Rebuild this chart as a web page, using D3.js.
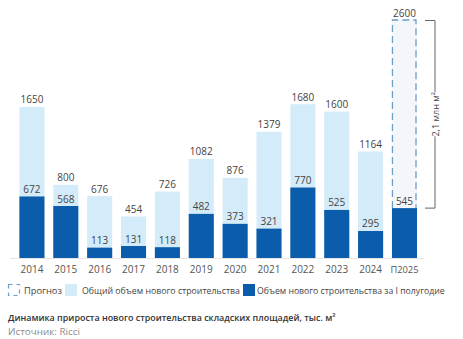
<!DOCTYPE html>
<html><head><meta charset="utf-8">
<script src="https://cdn.jsdelivr.net/npm/d3@7"></script>
<style>body{margin:0;background:#fff;} text{font-family:"Open Sans",sans-serif;}</style>
</head><body><svg id="c" width="463" height="339"></svg>
<script>
const years = ["2014","2015","2016","2017","2018","2019","2020","2021","2022","2023","2024","П2025"];
const totalValues = [1650,800,676,454,726,1082,876,1379,1680,1600,1164,2600];
const halfYearValues = [672,568,113,131,118,482,373,321,770,525,295,545];
const forecastFlags = [false,false,false,false,false,false,false,false,false,false,false,true];
const legendLabels = ["Прогноз","Общий объем нового строительства","Объем нового строительства за I полугодие"];
const titleText = "Динамика прироста нового строительства складских площадей, тыс. м²";
const sourceText = "Источник: Ricci";
const bracketLabel = "2,1 млн м²";

const dark = "#0b5cab", light = "#d4ecf9", fcFill = "#f3f7fb", dash = "#6e9ec4";
const svg = d3.select("#c");
const x = d3.scaleBand().domain(years).range([15, 421.4]).paddingInner(0.26).paddingOuter(0.13);
const y = d3.scaleLinear().domain([0, 2600]).range([258, 20]);
const data = years.map((yr,i)=>({yr, t: totalValues[i], h: halfYearValues[i], f: forecastFlags[i]}));

function fit(sel, w){
  sel.each(function(){
    const s = d3.select(this);
    const L = this.getComputedTextLength();
    if (L > w) s.attr("font-size", (+s.attr("font-size")) * w / L);
  });
  return sel;
}

svg.append("line").attr("x1",10).attr("x2",424).attr("y1",y(0)+0.5).attr("y2",y(0)+0.5)
  .attr("stroke","#e6e6e6").attr("stroke-width",1);

const g = svg.append("g");
g.selectAll(".tot").data(data).join("rect")
  .attr("x", d=>x(d.yr)).attr("width", x.bandwidth())
  .attr("y", d=>y(d.t)).attr("height", d=>y(0)-y(d.t))
  .attr("fill", d=>d.f ? fcFill : light);
data.filter(d=>d.f).forEach(d=>{
  const x0 = x(d.yr)+0.5, x1 = x(d.yr)+x.bandwidth()-1, yt = y(d.t), yb = y(d.h);
  const p = d3.path(); p.moveTo(x0,yb); p.lineTo(x0,yt); p.lineTo(x1,yt); p.lineTo(x1,yb);
  g.append("path").attr("d", p.toString()).attr("fill","none").attr("stroke",dash)
   .attr("stroke-width",1.3).attr("stroke-dasharray","7,4");
});
g.selectAll(".half").data(data).join("rect")
  .attr("x", d=>x(d.yr)).attr("width", x.bandwidth())
  .attr("y", d=>y(d.h)).attr("height", d=>y(0)-y(d.h))
  .attr("fill", dark);

g.selectAll(".tl").data(data).join("text")
  .attr("x", d=>x(d.yr)+x.bandwidth()/2).attr("y", d=>y(d.t)-3.5)
  .attr("text-anchor","middle").attr("font-size",10).attr("fill","#444").text(d=>d.t);
g.selectAll(".hl").data(data).join("text")
  .attr("x", d=>x(d.yr)+x.bandwidth()/2).attr("y", d=>y(d.h)-3.5)
  .attr("text-anchor","middle").attr("font-size",10).attr("fill","#444").text(d=>d.h);

const ax = svg.append("g").attr("transform",`translate(0,${y(0)})`)
  .call(d3.axisBottom(x).tickSize(0).tickPadding(8));
ax.select(".domain").remove();
ax.selectAll("text").attr("font-size",10).attr("fill","#555").attr("font-family","Open Sans, sans-serif");
fit(ax.selectAll("text"), 28);

const fc = data[data.length-1];
const bx = 435, bt = y(fc.t)+0.5, bb = y(fc.h);
const my = (bt+bb)/2;
const bp = d3.path();
bp.moveTo(425,bt); bp.lineTo(bx,bt); bp.lineTo(bx,my-22);
bp.moveTo(bx,my+22); bp.lineTo(bx,bb); bp.lineTo(425,bb);
svg.append("path").attr("d",bp.toString()).attr("fill","none").attr("stroke","#666").attr("stroke-width",1);
svg.append("text").attr("transform",`translate(${bx+3.5},${my}) rotate(-90)`)
  .attr("text-anchor","middle").attr("font-size",9).attr("fill","#444").text(bracketLabel);

const ly = 284;
const lp = svg.append("g");
lp.append("rect").attr("x",8.5).attr("y",ly+0.5).attr("width",11).attr("height",11)
  .attr("fill","none").attr("stroke",dash).attr("stroke-width",1.2).attr("stroke-dasharray","4,4");
fit(lp.append("text").attr("x",24).attr("y",ly+10).attr("font-size",10).attr("fill","#444").text(legendLabels[0]), 38);
lp.append("rect").attr("x",65).attr("y",ly).attr("width",12).attr("height",12).attr("fill",light);
fit(lp.append("text").attr("x",82).attr("y",ly+10).attr("font-size",10).attr("fill","#444").text(legendLabels[1]), 158);
lp.append("rect").attr("x",243).attr("y",ly).attr("width",12).attr("height",12).attr("fill",dark);
fit(lp.append("text").attr("x",257).attr("y",ly+10).attr("font-size",10).attr("fill","#444").text(legendLabels[2]), 188);

fit(svg.append("text").attr("x",8).attr("y",321).attr("font-size",11).attr("font-weight",600).attr("fill","#333").text(titleText), 328);
fit(svg.append("text").attr("x",8).attr("y",335).attr("font-size",10.5).attr("fill","#8a8a8a").text(sourceText), 72);
</script></body></html>
